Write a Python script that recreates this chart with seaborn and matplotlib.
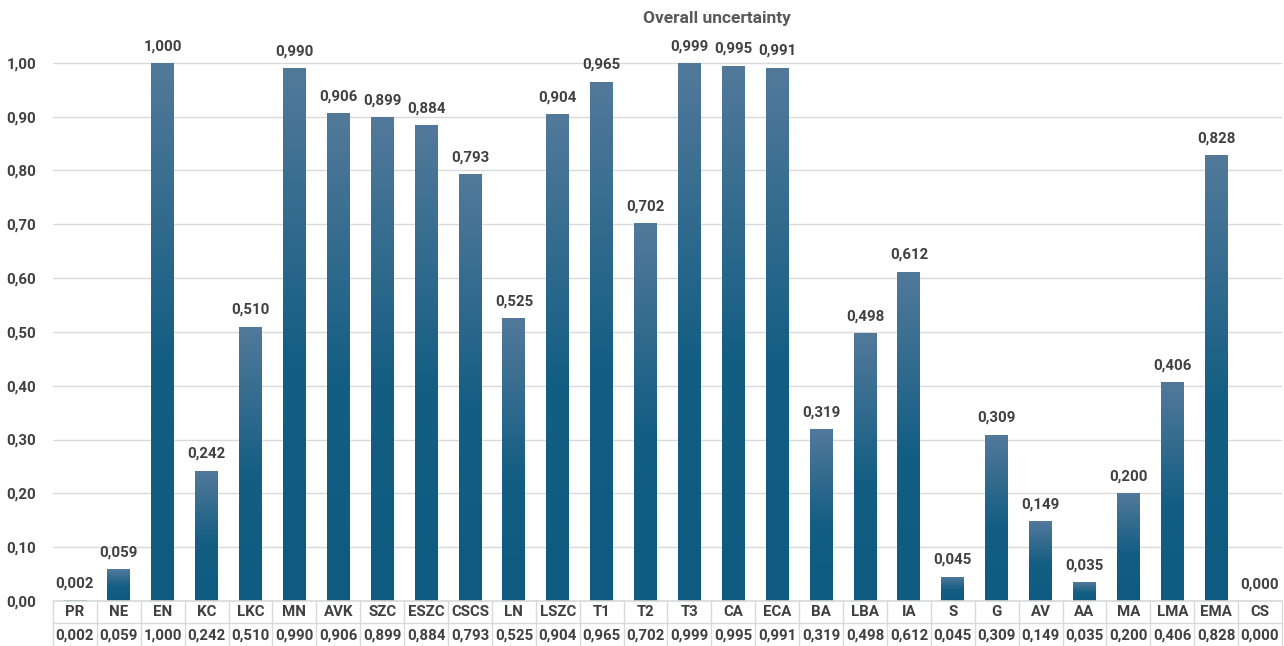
import numpy as np
import pandas as pd
import matplotlib
matplotlib.use("Agg")
import matplotlib.pyplot as plt
import matplotlib.transforms as mtransforms
from matplotlib.colors import LinearSegmentedColormap
import seaborn as sns

categories = ["PR", "NE", "EN", "KC", "LKC", "MN", "AVK", "SZC", "ESZC", "CSCS",
              "LN", "LSZC", "T1", "T2", "T3", "CA", "ECA", "BA", "LBA", "IA",
              "S", "G", "AV", "AA", "MA", "LMA", "EMA", "CS"]
values = [0.002, 0.059, 1.000, 0.242, 0.510, 0.990, 0.906, 0.899, 0.884, 0.793,
          0.525, 0.904, 0.965, 0.702, 0.999, 0.995, 0.991, 0.319, 0.498, 0.612,
          0.045, 0.309, 0.149, 0.035, 0.200, 0.406, 0.828, 0.000]
y_ticks = [0.0, 0.1, 0.2, 0.3, 0.4, 0.5, 0.6, 0.7, 0.8, 0.9, 1.0]
title = "Overall uncertainty"

def fmt(v, d):
    return f"{v:.{d}f}".replace(".", ",")

sns.set_theme(style="white")
plt.rcParams["font.family"] = ["Roboto", "DejaVu Sans"]
TXT = "#404040"
FS = 10.8

W, H = 1284, 646
fig = plt.figure(figsize=(W / 100, H / 100), dpi=100)
left, right, bottom, top = 53 / W, 1282 / W, (H - 601) / H, (H - 9) / H
ax = fig.add_axes([left, bottom, right - left, top - bottom])

df = pd.DataFrame({"cat": categories, "val": values})
sns.barplot(data=df, x="cat", y="val", ax=ax, color="#1b5f85", width=0.52,
            saturation=1, zorder=3)

ax.set_ylim(0, 1.1)
ax.set_xlim(-0.5, len(categories) - 0.5)
ax.set_yticks(y_ticks)
ax.set_yticklabels([fmt(t, 2) for t in y_ticks], fontsize=FS, fontweight="bold", color=TXT)
ax.tick_params(axis="y", length=0, pad=12)
ax.set_xticks([])
ax.set_xlabel("")
ax.set_ylabel("")
for t in y_ticks:
    ax.axhline(t, color="#d9d9d9", lw=1, zorder=1)
for s in ax.spines.values():
    s.set_visible(False)

# gradient fill for bars
cmap = LinearSegmentedColormap.from_list("g", [(0, "#0e5a80"), (0.45, "#145e83"), (1, "#52799a")])
grad = np.linspace(0, 1, 256).reshape(-1, 1)
for p in list(ax.patches):
    x0, w, h = p.get_x(), p.get_width(), p.get_height()
    if h <= 0:
        continue
    im = ax.imshow(grad, cmap=cmap, origin="lower", aspect="auto",
                   extent=[x0, x0 + w, 0, h], zorder=4)
    im.set_clip_path(p)
    p.set_edgecolor("none")

# data labels
for i, v in enumerate(values):
    ax.annotate(fmt(v, 3), (i, v), xytext=(0, 7), textcoords="offset points",
                ha="center", va="bottom", fontsize=FS, fontweight="bold", color=TXT)

# data table
trans = mtransforms.blended_transform_factory(ax.transData, fig.transFigure)
row1_y = (H - 612) / H
row2_y = (H - 636) / H
line_mid = (H - 623) / H
n = len(categories)
for i, (c, v) in enumerate(zip(categories, values)):
    ax.text(i, row1_y, c, transform=trans, ha="center", va="center",
            fontsize=FS, fontweight="bold", color=TXT, clip_on=False)
    ax.text(i, row2_y, fmt(v, 3), transform=trans, ha="center", va="center",
            fontsize=FS, fontweight="bold", color=TXT, clip_on=False)
lc = "#d9d9d9"
ax.plot([-0.5, n - 0.5], [bottom, bottom], transform=trans, color=lc, lw=1.2, clip_on=False, zorder=5)
ax.plot([-0.5, n - 0.5], [line_mid, line_mid], transform=trans, color=lc, lw=1, clip_on=False)
for i in range(n + 1):
    ax.plot([i - 0.5, i - 0.5], [0, bottom], transform=trans, color=lc, lw=1, clip_on=False)

fig.text(717 / W, (H - 18) / H, title, ha="center", va="center",
         fontsize=12.5, fontweight="bold", color="#595959")

fig.savefig("out.png", dpi=100, facecolor="white")
